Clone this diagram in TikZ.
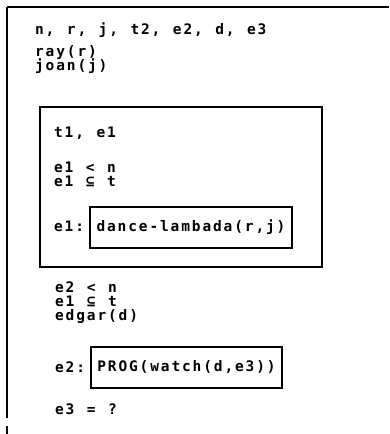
\documentclass[tikz,border=0pt]{standalone}
\usepackage{fontspec}
\newfontfamily\codefont{DejaVu Sans Mono}
\newlength\monopitch
\setlength\monopitch{10.6pt}
% set a string on a fixed character pitch, spaces included
\ExplSyntaxOn
\NewDocumentCommand\mono{m}{\str_map_inline:nn {#1} {\makebox[\monopitch][c]{##1}}}
\ExplSyntaxOff
\begin{document}
\begin{tikzpicture}[x=1pt,y=-1pt,
  code/.style={anchor=base west, inner sep=0pt,
    font=\codefont\bfseries\fontsize{14.5}{14.5}\selectfont},
  termbox/.style={draw, line width=1.1pt, inner sep=0pt, minimum height=41pt,
    font=\codefont\bfseries\fontsize{14.5}{14.5}\selectfont},
  rule/.style={line width=1.4pt},
  scopebox/.style={draw, line width=1.3pt}]
\useasboundingbox (0,0) rectangle (389,434);

% outer frame (top edge and broken left edge)
\draw[rule] (7,7) -- (389,7);
\draw[rule] (7,7) -- (7,418);
\draw[rule] (7,426) -- (7,434);

% outer discourse referents and conditions
\node[code] (refs) at (34,34) {\mono{n, r, j, t2, e2, d, e3}};
\node[code] (ray) at (34,56) {\mono{ray(r)}};
\node[code] (joan) at (34,70) {\mono{joan(j)}};

% embedded box
\draw[scopebox] (40,107) rectangle (322,267);
\node[code] (inrefs) at (53,137) {\mono{t1, e1}};
\node[code] (c1) at (53,172) {\mono{e1 < n}};
\node[code] (c2) at (53,186) {\mono{e1 ⊆ t}};
\node[code] (e1lab) at (53,231) {\mono{e1:}};
\node[termbox, minimum width=202pt] (dance) at (191,227.5) {\mono{dance-lambada(r,j)}};

% remaining conditions
\node[code] (c3) at (54,292) {\mono{e2 < n}};
\node[code] (c4) at (54,306) {\mono{e1 ⊆ t}};
\node[code] (edgar) at (54,320) {\mono{edgar(d)}};
\node[code] (e2lab) at (54,372) {\mono{e2:}};
\node[termbox, minimum width=191pt] (prog) at (186.5,367.5) {\mono{PROG(watch(d,e3))}};
\node[code] (e3q) at (54,414) {\mono{e3 = ?}};
\end{tikzpicture}
\end{document}
